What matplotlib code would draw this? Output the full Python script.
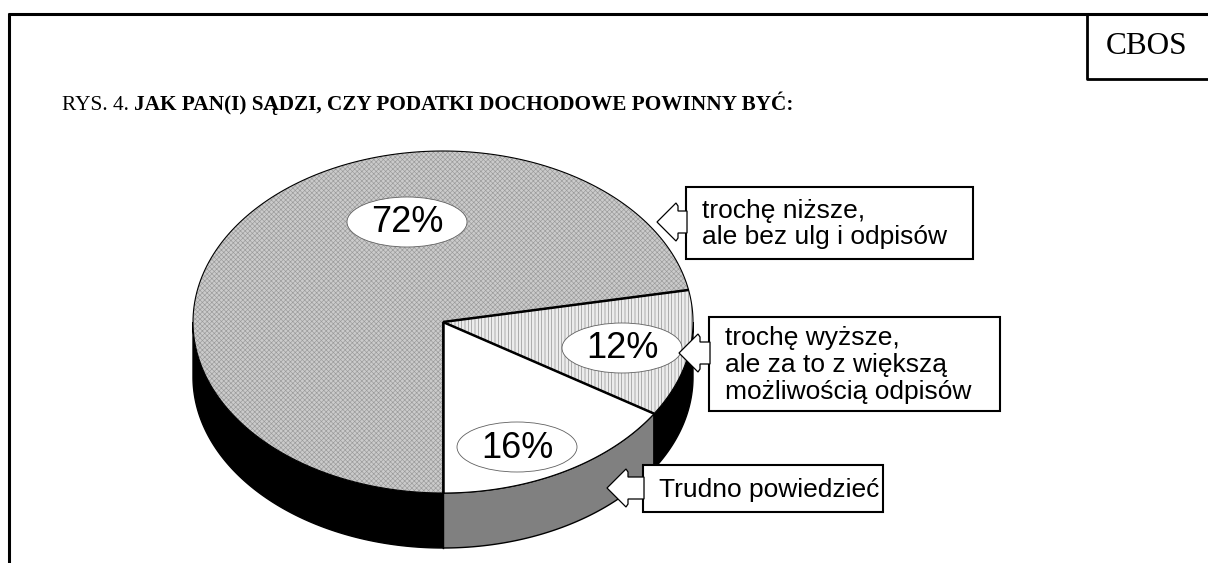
import numpy as np
import matplotlib
matplotlib.use("Agg")
import matplotlib.pyplot as plt
from matplotlib.patches import Polygon, Ellipse, Rectangle

# ---------------- data ----------------
categories = ["Trudno powiedzieć",
              "trochę wyższe,\nale za to z większą\nmożliwością odpisów",
              "trochę niższe,\nale bez ulg i odpisów"]
values = [16, 12, 72]
title_prefix = "RYS. 4. "
title_main = "JAK PAN(I) SĄDZI, CZY PODATKI DOCHODOWE POWINNY BYĆ:"
source = "CBOS"

# ---------------- styles / layout ----------------
top_face = ["white", "#ececec", "#cbcbcb"]
top_hatch = [None, "|||||", "xxxxxxx"]
hatch_col = [None, "#8a8a8a", "#9a9a9a"]
side_face = ["#808080", "black", "black"]
pct_pos = [(517, 447), (622, 348), (407, 222)]
boxes = [(643, 465, 883, 512), (709, 317, 1000, 411), (686, 187, 973, 259)]
arrow_tip = [(607, 488), (679, 353), (657, 222)]

plt.rcParams['hatch.linewidth'] = 0.45
W, H = 1208, 563
fig = plt.figure(figsize=(W / 100, H / 100), dpi=100)
ax = fig.add_axes([0, 0, 1, 1])
ax.set_xlim(0, W)
ax.set_ylim(H, 0)
ax.axis('off')

cx, cy, rx, ry, depth = 443, 322, 250, 171, 55


def pt(theta, dy=0.0):
    t = np.radians(theta)
    return cx + rx * np.cos(t), cy - ry * np.sin(t) + dy


def arc(a, b, dy=0.0, n=200):
    th = np.linspace(a, b, n)
    xs, ys = pt(th, dy)
    return np.column_stack([xs, ys])


total = float(sum(values))
starts = [-90 + 360 * sum(values[:i]) / total for i in range(len(values))]
ends = [-90 + 360 * sum(values[:i + 1]) / total for i in range(len(values))]

# ---- sides (front, lower half) ----
for i in range(len(values)):
    a, b = starts[i], ends[i]
    for lo, hi in [(-180, 0), (180, 360)]:
        s, e = max(a, lo), min(b, hi)
        if e > s:
            top = arc(s, e)
            bot = arc(e, s, depth)
            poly = np.vstack([top, bot])
            ax.add_patch(Polygon(poly, closed=True, facecolor=side_face[i],
                                 edgecolor='black', lw=1.0, zorder=1))

# ---- top wedges ----
for i in range(len(values)):
    a, b = starts[i], ends[i]
    poly = np.vstack([[cx, cy], arc(a, b)])
    ax.add_patch(Polygon(poly, closed=True, facecolor=top_face[i],
                         edgecolor='none', lw=0, zorder=2))
    if top_hatch[i]:
        ax.add_patch(Polygon(poly, closed=True, facecolor='none',
                             edgecolor=hatch_col[i], lw=0,
                             hatch=top_hatch[i], zorder=2.1))
    ax.add_patch(Polygon(poly, closed=True, facecolor='none',
                         edgecolor='black', lw=0.8, zorder=2.2))

# radial separators (thick)
for ang in starts:
    x1, y1 = pt(ang)
    ax.plot([cx, x1], [cy, y1], color='black', lw=1.8, zorder=3,
            solid_capstyle='butt')
    if np.sin(np.radians(ang)) < 0:
        ax.plot([x1, x1], [y1, y1 + depth], color='black', lw=1.0, zorder=3)

# ---- percent labels ----
for i, v in enumerate(values):
    x, y = pct_pos[i]
    ax.add_patch(Ellipse((x, y), 120, 50, facecolor='white',
                         edgecolor='#606060', lw=0.6, zorder=4))
    ax.text(x, y + 1, f"{v}%", ha='center', va='center', fontsize=26,
            family='Liberation Sans', zorder=5)

# ---- callouts ----
for i, lab in enumerate(categories):
    x0, y0, x1, y1 = boxes[i]
    ax.add_patch(Rectangle((x0, y0), x1 - x0, y1 - y0, facecolor='white',
                           edgecolor='black', lw=1.5, zorder=6))
    tx, ty = arrow_tip[i]
    hw, sw, hl = 19, 11, 19
    arrow = [(tx, ty), (tx + hl, ty - hw), (tx + hl + 2, ty - hw + 3),
             (tx + hl + 2, ty - sw), (x0 + 1, ty - sw), (x0 + 1, ty + sw),
             (tx + hl + 2, ty + sw), (tx + hl + 2, ty + hw - 3),
             (tx + hl, ty + hw)]
    ax.add_patch(Polygon(arrow, closed=True, facecolor='white',
                         edgecolor='black', lw=0.9, zorder=6.5))
    lines = lab.split("\n")
    n = len(lines)
    yc = (y0 + y1) / 2
    step = 26.5
    for j, line in enumerate(lines):
        ax.text(x0 + 16, yc + (j - (n - 1) / 2) * step + 1, line,
                ha='left', va='center', fontsize=19,
                family='Liberation Sans', zorder=7)

# ---- frame ----
ax.plot([8, W], [14, 14], color='black', lw=2.2, solid_capstyle='butt')
ax.plot([9, 9], [13, H], color='black', lw=2.2, solid_capstyle='butt')
ax.plot([1087, 1087, W], [14, 79, 79], color='black', lw=2.0,
        solid_capstyle='butt')
ax.text(1147, 47, source, ha='center', va='center', fontsize=22.5,
        family='Liberation Serif')

# ---- title (fit to reference width 62..795 px) ----
fig.canvas.draw()
r = fig.canvas.get_renderer()
fs = 15.0
t1 = ax.text(62, 110, title_prefix, ha='left', va='baseline', fontsize=fs,
             family='Liberation Serif')
bb = t1.get_window_extent(r)
x_after = ax.transData.inverted().transform((bb.x1, bb.y0))[0]
t2 = ax.text(x_after, 110, title_main, ha='left', va='baseline', fontsize=fs,
             family='Liberation Serif', fontweight='bold')
bb2 = t2.get_window_extent(r)
scale = (795 - 62) / (bb2.x1 - bb.x0)
fs2 = fs * scale
t1.set_fontsize(fs2)
fig.canvas.draw()
bb = t1.get_window_extent(r)
x_after = ax.transData.inverted().transform((bb.x1, bb.y0))[0]
t2.set_position((x_after, 110))
t2.set_fontsize(fs2)

fig.savefig("out.png", dpi=100)
